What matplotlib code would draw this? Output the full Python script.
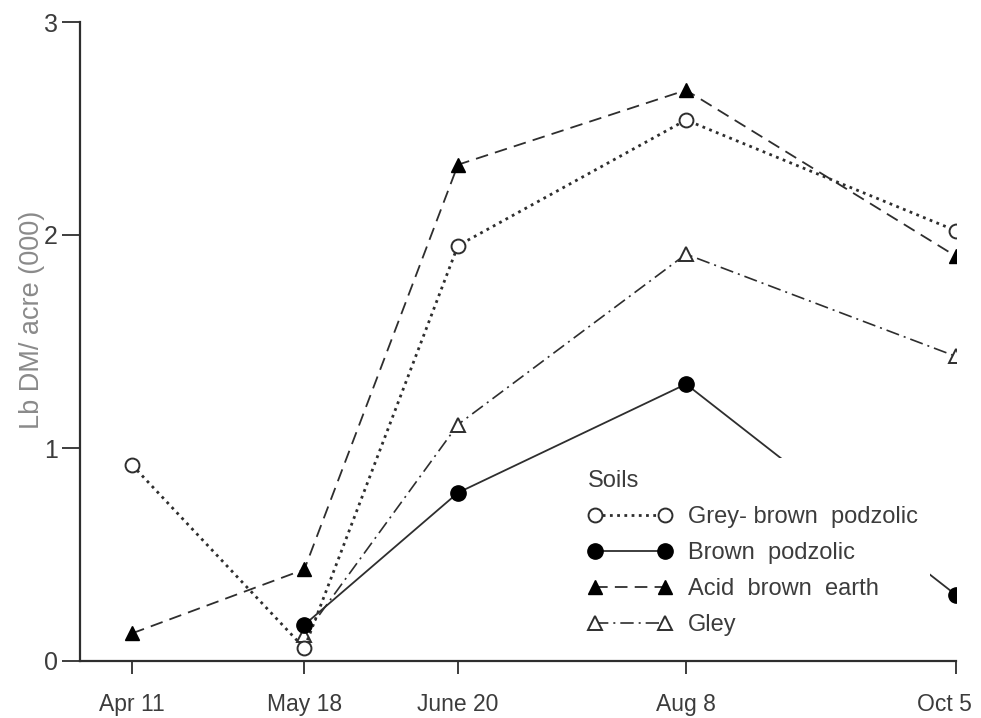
import numpy as np
import matplotlib as mpl
mpl.use("Agg")
import matplotlib.pyplot as plt
import matplotlib.transforms as mtransforms

# sampling dates as day of year
dates = ["Apr 11", "May 18", "June 20", "Aug 8", "Oct 5"]
days = [101, 138, 171, 220, 278]

# dry matter yield, Lb DM/acre (000)
grey_brown = [0.92, 0.06, 1.95, 2.54, 2.02]
brown_pod = [0.17, 0.79, 1.30, 0.31]        # from May 18
acid_brown = [0.13, 0.43, 2.33, 2.68, 1.90]
gley = [0.12, 1.11, 1.91, 1.43]             # from May 18

ink = "#2e2e2e"
txt = "#3c3c3c"
plt.rcParams['font.family'] = ['Liberation Sans', 'DejaVu Sans']

fig = plt.figure(figsize=(9.81, 7.18), dpi=100)
ax = fig.add_axes([80/981, 1-661/718, (956-80)/981, (661-22)/718])

ax.plot(days, grey_brown, linestyle=(0, (1, 1.6)), lw=2.0, color=ink,
        marker='o', ms=10, mfc='white', mec=ink, mew=1.4,
        label='Grey- brown  podzolic', zorder=3)
ax.plot(days[1:], brown_pod, linestyle='-', lw=1.3, color=ink,
        marker='o', ms=11, mfc='black', mec='black',
        label='Brown  podzolic', zorder=4)
ax.plot(days, acid_brown, linestyle=(0, (7, 4)), lw=1.3, color=ink,
        marker='^', ms=10, mfc='black', mec='black',
        label='Acid  brown  earth', zorder=3)
ax.plot(days[1:], gley, linestyle=(0, (8, 3, 1.2, 3)), lw=1.2, color=ink,
        marker='^', ms=10, mfc='white', mec=ink, mew=1.4,
        label='Gley', zorder=2)

ax.set_xlim(89.8, 278)
ax.set_ylim(0, 3)
ax.set_xticks(days)
ax.set_xticklabels(dates, fontsize=16.5, color=txt)
ax.set_yticks([0, 1, 2, 3])
ax.set_yticklabels(['0', '1', '2', '3'], fontsize=18, color=txt)
ax.tick_params(axis='x', length=9, width=1.3, pad=14, color=ink)
ax.tick_params(axis='y', length=13, width=1.3, pad=3, color=ink)

# last date label sits a little left of its tick
last = ax.get_xticklabels()[-1]
last.set_transform(last.get_transform() +
                   mtransforms.ScaledTranslation(-12/100, 0, fig.dpi_scale_trans))

for s in ['top', 'right']:
    ax.spines[s].set_visible(False)
for s in ['left', 'bottom']:
    ax.spines[s].set_linewidth(1.6)
    ax.spines[s].set_color(ink)

ax.set_ylabel('Lb DM/ acre (000)', fontsize=19.5, color='#8a8a8a')
ax.yaxis.set_label_coords(-0.040, 0.534)

leg = ax.legend(loc='upper left', bbox_to_anchor=(0.566, 0.318), title='Soils',
                numpoints=2, handlelength=3.56, handletextpad=0.68,
                labelspacing=0.6, fontsize=17, title_fontsize=17,
                frameon=True, framealpha=1, facecolor='white', edgecolor='none',
                alignment='left', borderpad=0.5, borderaxespad=0)
for t in leg.get_texts():
    t.set_color(txt)
leg.get_title().set_color(txt)

fig.savefig('out.png', dpi=100)
